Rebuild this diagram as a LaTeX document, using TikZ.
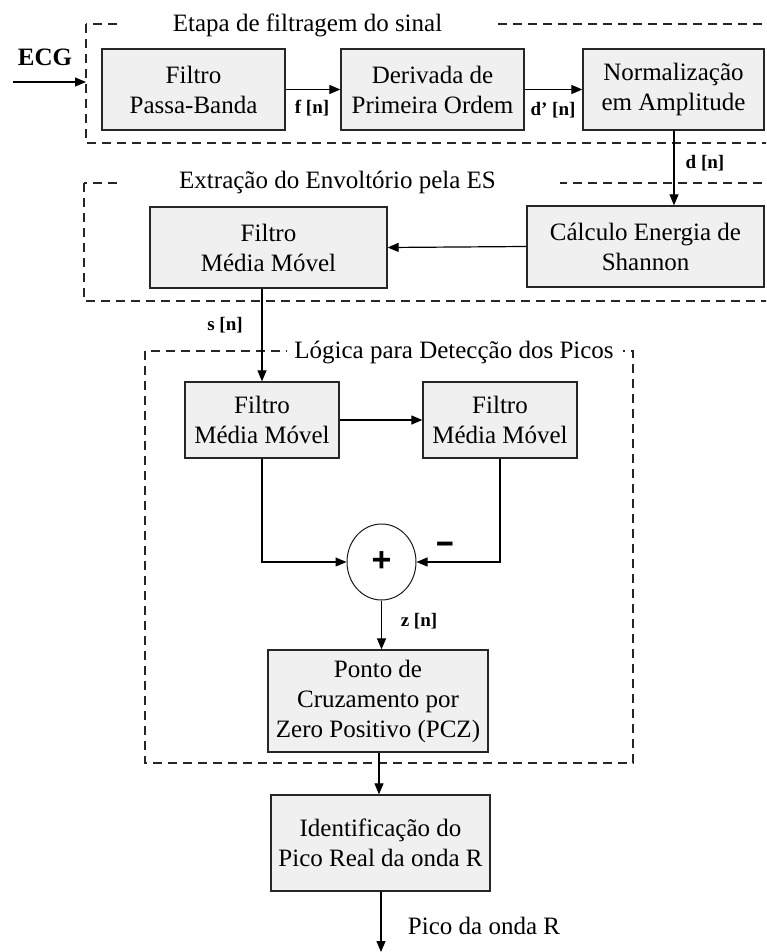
\documentclass[tikz,border=0pt]{standalone}
\usepackage{fontspec}
\setmainfont{Liberation Serif}
\setsansfont{Liberation Sans}
\newfontfamily\symfnt{DejaVu Sans}
\usetikzlibrary{arrows.meta,shapes.geometric}
\begin{document}
\begin{tikzpicture}[x=1pt,y=-1pt,
  blk/.style={draw=black!85,line width=1.3pt,fill=black!6,inner sep=0pt,align=center,
    font=\fontsize{25}{30}\selectfont},
  arr/.style={line width=1.2pt,-{Triangle[length=11pt,width=9pt]}},
  grp/.style={draw=black!85,line width=1.2pt,dash pattern=on 9pt off 6pt},
  lbl/.style={font=\fontsize{19}{22}\selectfont\bfseries,inner sep=0pt},
  ttl/.style={font=\fontsize{25}{30}\selectfont,anchor=base,inner sep=0pt},
  txt/.style={font=\fontsize{25}{30}\selectfont,inner sep=0pt},
]
\useasboundingbox (0,0) rectangle (766,952);
\fill[white] (0,0) rectangle (766,952);
\clip (0,0) rectangle (766,952);

% group frames
\draw[grp] (86,24) rectangle (800,143);
\draw[grp] (84,183) rectangle (800,301);
\draw[grp] (145,351) rectangle (633,763);
\fill[white] (117,17) rectangle (496,31);
\fill[white] (118,176) rectangle (560,190);
\fill[white] (287,344) rectangle (623,358);
\node[ttl] (t1) at (307.5,32) {Etapa de filtragem do sinal};
\node[ttl] (t2) at (337.5,188) {Extração do Envoltório pela ES};
\node[ttl] (t3) at (454,358) {Lógica para Detecção dos Picos};

% blocks
\node[blk,minimum width=183pt,minimum height=81pt] (fpb) at (193.5,89.5) {Filtro\\Passa-Banda};
\node[blk,minimum width=183pt,minimum height=81pt] (der) at (432.5,89.5) {Derivada de\\Primeira Ordem};
\node[blk,minimum width=181pt,minimum height=81pt] (norm) at (673.5,89.5) {Normalização\\em Amplitude};
\node[blk,minimum width=237pt,minimum height=81pt] (calc) at (645.5,246.5) {Cálculo Energia de\\Shannon};
\node[blk,minimum width=237pt,minimum height=81pt] (mm0) at (268.5,247.5) {Filtro\\Média Móvel};
\node[blk,minimum width=154pt,minimum height=76pt] (mm1) at (262,420) {Filtro\\Média Móvel};
\node[blk,minimum width=154pt,minimum height=76pt] (mm2) at (500,420) {Filtro\\Média Móvel};
\node[draw=black!90,line width=1pt,ellipse,minimum width=69pt,minimum height=76pt,inner sep=0pt,
  font=\sffamily\bfseries\fontsize{34}{34}\selectfont] (sum) at (381.5,562) {+};
\node[blk,minimum width=220pt,minimum height=102pt] (pcz) at (378,701) {Ponto de\\Cruzamento por\\Zero Positivo (PCZ)};
\node[blk,minimum width=219pt,minimum height=96pt] (ident) at (380.5,843) {Identificação do\\Pico Real da onda R};

% texts
\node[txt,font=\fontsize{25}{30}\selectfont\bfseries] (ecg) at (45,57) {ECG};
\node[lbl] (lf) at (312,108) {f [n]};
\node[lbl] (ld1) at (553,110) {d’ [n]};
\node[lbl] (ld) at (705,163) {d [n]};
\node[lbl] (ls) at (225,325) {s [n]};
\node[lbl] (lz) at (419,621) {z [n]};
\node[inner sep=0pt,font=\symfnt\bfseries\fontsize{28}{28}\selectfont] (minus) at (445,547) {\scalebox{1.4}[1.1]{–}};
\node[txt] (lout) at (484,926) {Pico da onda R};

% connectors
\coordinate (ecgin) at (13,82);
\coordinate (ecgend) at (86,82);
\coordinate (out) at (381,952);
\draw[arr] (ecgin) -- (ecgend);
\draw[arr] (fpb.east) -- (der.west);
\draw[arr] (der.east) -- (norm.west);
\draw[arr] ([xshift=0.5pt]norm.south) -- ([xshift=0.5pt]norm.south |- calc.north);
\draw[arr] (calc.west) -- (mm0.east);
\draw[arr] (mm1.north |- mm0.south) -- (mm1.north);
\draw[arr] (mm1.east) -- (mm2.west);
\draw[arr] (mm1.south) |- (sum.west);
\draw[arr] (mm2.south) |- (sum.east);
\draw[arr] (sum.south) -- (sum.south |- pcz.north);
\draw[arr] ([xshift=1pt]pcz.south) -- ([xshift=1pt]pcz.south |- ident.north);
\draw[arr] ([xshift=0.5pt]ident.south) -- (out);
\end{tikzpicture}
\end{document}
